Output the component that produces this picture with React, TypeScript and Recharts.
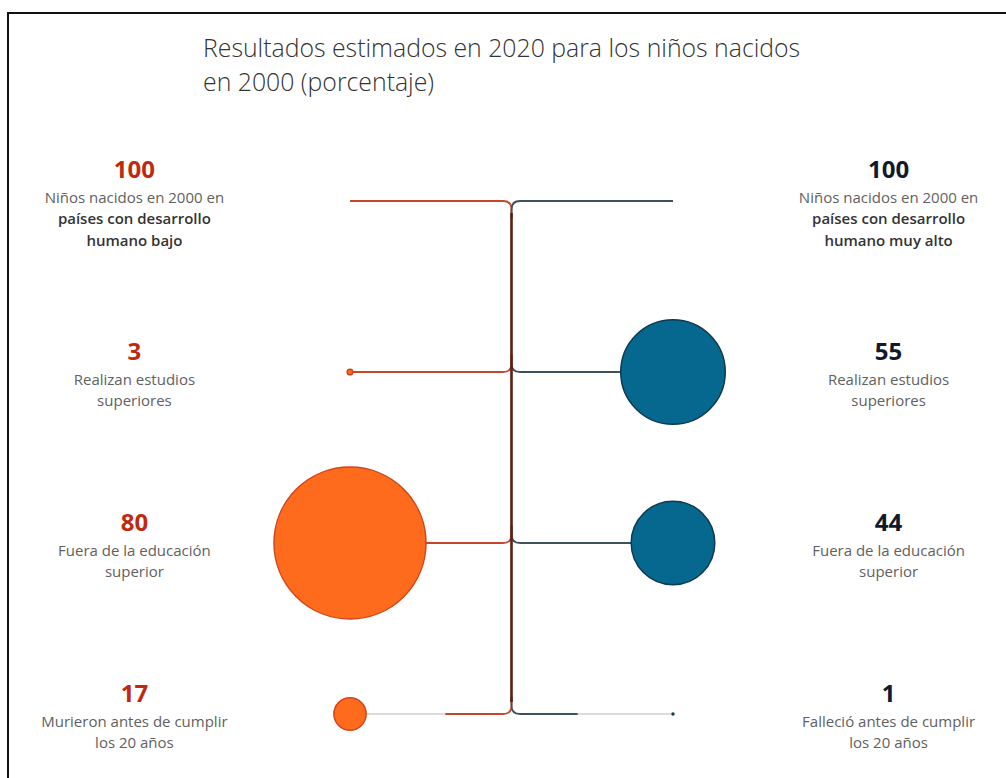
import React from 'react';
import { ComposedChart, XAxis, YAxis, ZAxis, Line, Scatter } from 'recharts';

// ---------- data ----------
const titleLines = ['Resultados estimados en 2020 para los niños nacidos', 'en 2000 (porcentaje)'];
const rowIndex = [0, 1, 2, 3];
const lowValues = [100, 3, 80, 17];
const highValues = [100, 55, 44, 1];
const lowLabels = [
  ['Niños nacidos en 2000 en', 'países con desarrollo', 'humano bajo'],
  ['Realizan estudios', 'superiores'],
  ['Fuera de la educación', 'superior'],
  ['Murieron antes de cumplir', 'los 20 años'],
];
const highLabels = [
  ['Niños nacidos en 2000 en', 'países con desarrollo', 'humano muy alto'],
  ['Realizan estudios', 'superiores'],
  ['Fuera de la educación', 'superior'],
  ['Falleció antes de cumplir', 'los 20 años'],
];
const emphasis = [
  [false, true, true],
  [false, false],
  [false, false],
  [false, false],
];
// position along the branch of the last row where the coloured part starts
const deathSplit = 0.41;

// ---------- layout constants (data units) ----------
const LOW_SIDE = -1;
const HIGH_SIDE = 1;
const LABEL_X = 2.335;
const BRANCH_RISE = 0.1;

// ---------- style ----------
const FONT = "'Open Sans', sans-serif";
const LOW_NUM = '#c1290f';
const HIGH_NUM = '#101a2b';
const LOW_LINE = '#c4472c';
const HIGH_LINE = '#3e525c';
const TRUNK = '#5e1e12';
const GREY = '#dcdcdc';
const LOW_FILL = '#ff6b1c';
const LOW_STROKE = '#d2451a';
const HIGH_FILL = '#06678f';
const HIGH_STROKE = '#0f3a50';

// rounded-corner curve factory
function roundedCorners(radius: number) {
  return (context: any) => {
    let pts: [number, number][] = [];
    return {
      areaStart() {},
      areaEnd() {},
      lineStart() {
        pts = [];
      },
      point(x: number, y: number) {
        pts.push([+x, +y]);
      },
      lineEnd() {
        if (!pts.length) return;
        context.moveTo(pts[0][0], pts[0][1]);
        for (let i = 1; i < pts.length - 1; i++) {
          const [px, py] = pts[i - 1];
          const [x, y] = pts[i];
          const [nx, ny] = pts[i + 1];
          const d1 = Math.hypot(x - px, y - py) || 1;
          const d2 = Math.hypot(nx - x, ny - y) || 1;
          const r = Math.min(radius, d1 / 2, d2 / 2);
          context.lineTo(x + ((px - x) / d1) * r, y + ((py - y) / d1) * r);
          context.quadraticCurveTo(x, y, x + ((nx - x) / d2) * r, y + ((ny - y) / d2) * r);
        }
        const last = pts[pts.length - 1];
        if (pts.length > 1) context.lineTo(last[0], last[1]);
      },
    };
  };
}
const corner = roundedCorners(15);

type Seg = { key: string; data: { x: number; y: number }[]; color: string; width: number };

function buildSegments(): Seg[] {
  const segs: Seg[] = [];
  const last = rowIndex[rowIndex.length - 1];
  rowIndex.forEach((r) => {
    [LOW_SIDE, HIGH_SIDE].forEach((side) => {
      const color = side < 0 ? LOW_LINE : HIGH_LINE;
      const dir = r === 0 ? 1 : -1;
      const start = r === last ? side * deathSplit : side;
      if (r === last) {
        segs.push({
          key: `g-${r}-${side}`,
          data: [
            { x: side, y: r },
            { x: side * deathSplit, y: r },
          ],
          color: GREY,
          width: 2,
        });
      }
      segs.push({
        key: `b-${r}-${side}`,
        data: [
          { x: start, y: r },
          { x: 0, y: r },
          { x: 0, y: r + dir * BRANCH_RISE },
        ],
        color,
        width: 1.8,
      });
    });
  });
  segs.push({
    key: 'trunk',
    data: [
      { x: 0, y: rowIndex[0] + 0.07 },
      { x: 0, y: last - 0.07 },
    ],
    color: TRUNK,
    width: 2.6,
  });
  return segs;
}

const lowCircles = rowIndex.filter((r) => r > 0).map((r) => ({ x: LOW_SIDE, y: r, value: lowValues[r] }));
const highCircles = rowIndex.filter((r) => r > 0).map((r) => ({ x: HIGH_SIDE, y: r, value: highValues[r] }));

const lowLabelData = rowIndex.map((r) => ({
  x: -LABEL_X,
  y: r,
  num: lowValues[r],
  lines: lowLabels[r],
  strong: emphasis[r],
  color: LOW_NUM,
}));
const highLabelData = rowIndex.map((r) => ({
  x: LABEL_X,
  y: r,
  num: highValues[r],
  lines: highLabels[r],
  strong: emphasis[r],
  color: HIGH_NUM,
}));

const circleShape = (fill: string, stroke: string) => (props: any) => {
  const { cx, cy, size } = props;
  if (cx == null || cy == null) return <g />;
  return <circle cx={cx} cy={cy} r={Math.max(size, 0.8)} fill={fill} stroke={stroke} strokeWidth={1.5} />;
};

const LabelShape = (props: any) => {
  const { cx, cy, payload } = props;
  const p = payload || props;
  const lines: string[] = p.lines;
  const n = lines.length;
  const numY = cy - 12 - (n - 2) * 11;
  return (
    <g>
      <text x={cx} y={numY} textAnchor="middle" fontFamily={FONT} fontSize={24} fontWeight={700} fill={p.color}>
        {p.num}
      </text>
      {lines.map((l, i) => (
        <text
          key={i}
          x={cx}
          y={numY + 25 + i * 21.5}
          textAnchor="middle"
          fontFamily={FONT}
          fontSize={15}
          fontWeight={p.strong[i] ? 600 : 400}
          fill={p.strong[i] ? '#333333' : '#616161'}
        >
          {l}
        </text>
      ))}
    </g>
  );
};

export default function App() {
  const W = 1006;
  const H = 778;
  const segs = buildSegments();
  return (
    <div style={{ position: 'absolute', left: 0, top: 0, width: W, height: H, background: '#fff' }}>
      <svg width={W} height={H} style={{ position: 'absolute', left: 0, top: 0 }}>
        <path d={`M8 ${H} V13 H${W}`} fill="none" stroke="#111" strokeWidth={2} />
        <g transform="translate(203,57) scale(0.955,1)">
          {titleLines.map((t, i) => (
            <text key={i} x={0} y={i * 34} fontFamily={FONT} fontSize={26} fontWeight={300} fill="#333">
              {t}
            </text>
          ))}
        </g>
      </svg>
      <div style={{ position: 'absolute', left: 0, top: 0 }}>
        <ComposedChart width={W} height={H} margin={{ top: 0, right: 0, bottom: 0, left: 17 }}>
          <XAxis type="number" dataKey="x" domain={[-3.062, 3.062]} allowDataOverflow hide />
          <YAxis type="number" dataKey="y" domain={[-1.1754, 3.3743]} reversed allowDataOverflow hide />
          <ZAxis type="number" dataKey="value" domain={[0, 100]} range={[0, 95]} />
          {segs.map((s) => (
            <Line
              key={s.key}
              data={s.data}
              dataKey="y"
              type={corner as any}
              stroke={s.color}
              strokeWidth={s.width}
              dot={false}
              activeDot={false}
              isAnimationActive={false}
            />
          ))}
          <Scatter data={lowCircles} shape={circleShape(LOW_FILL, LOW_STROKE)} isAnimationActive={false} />
          <Scatter data={highCircles} shape={circleShape(HIGH_FILL, HIGH_STROKE)} isAnimationActive={false} />
          <Scatter data={lowLabelData} shape={LabelShape} isAnimationActive={false} />
          <Scatter data={highLabelData} shape={LabelShape} isAnimationActive={false} />
        </ComposedChart>
      </div>
    </div>
  );
}
